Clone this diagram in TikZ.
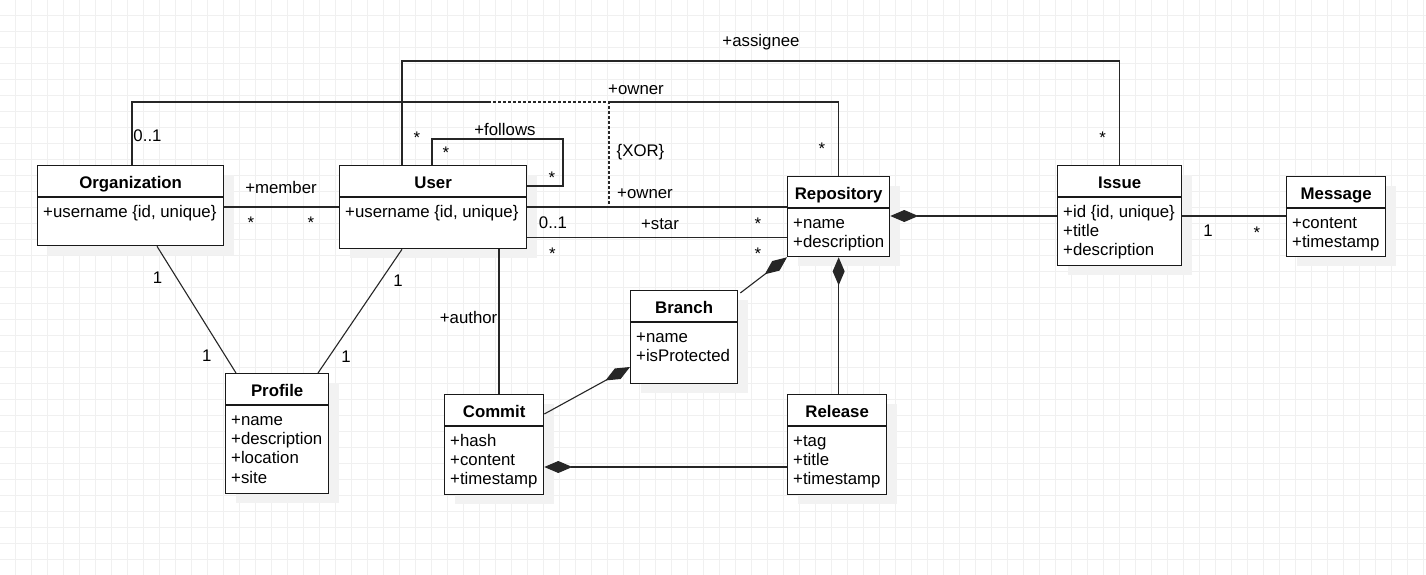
\documentclass[tikz,border=0pt]{standalone}
\usepackage{fontspec}
\setmainfont{Liberation Sans}
\usetikzlibrary{arrows.meta,shadows}
\newcommand\umlfont{\fontsize{16.8}{19.4}\selectfont}
\tikzset{
  gridline/.style={draw=black!6, line width=1pt},
  classbox/.style={draw=black!90, line width=1.3pt, fill=white, anchor=north west, inner sep=0pt,
    drop shadow={shadow xshift=10pt, shadow yshift=-9pt, fill=black!5, opacity=1}},
  classtitle/.style={anchor=base, inner sep=0pt, font=\umlfont\bfseries},
  classattr/.style={anchor=north west, inner sep=0pt, align=left, font=\umlfont},
  classline/.style={draw=black!90, line width=1.3pt},
  assoc/.style={draw=black!85, line width=1.1pt},
  comp/.style={assoc, -{Diamond[length=28pt, width=12pt]}},
  xorline/.style={draw=black!85, line width=1.3pt, dash pattern=on 3pt off 2pt},
  lbl/.style={inner sep=0pt, font=\umlfont, anchor=base},
  mult/.style={lbl, anchor=north, text height=12pt, text depth=0pt}
}

\begin{document}
\begin{tikzpicture}[x=1pt, y=-1pt]
  \fill[white] (0,0) rectangle (1426,575);
  \useasboundingbox (0,0) rectangle (1426,575);
  \foreach \gx in {0,...,88} \draw[gridline] (15.3+16*\gx,0) -- (15.3+16*\gx,575);
  \foreach \gy in {0,...,34} \draw[gridline] (0,15.3+16*\gy) -- (1426,15.3+16*\gy);

  % classes
  \node[classbox, minimum width=186pt, minimum height=80pt] (org) at (37,165) {};
  \node[classtitle] (orgT) at ([yshift=-23pt]org.north) {Organization};
  \draw[classline] ([yshift=-32pt]org.north west) -- ([yshift=-32pt]org.north east);
  \node[classattr] (orgA) at ([xshift=6pt,yshift=-38.4pt]org.north west) {\strut+username \{id, unique\}};

  \node[classbox, minimum width=187pt, minimum height=83pt] (user) at (339,165) {};
  \node[classtitle] (userT) at ([yshift=-23pt]user.north) {User};
  \draw[classline] ([yshift=-32pt]user.north west) -- ([yshift=-32pt]user.north east);
  \node[classattr] (userA) at ([xshift=6pt,yshift=-38.4pt]user.north west) {\strut+username \{id, unique\}};

  \node[classbox, minimum width=102pt, minimum height=80pt] (repo) at (787,176) {};
  \node[classtitle] (repoT) at ([yshift=-23pt]repo.north) {Repository};
  \draw[classline] ([yshift=-32pt]repo.north west) -- ([yshift=-32pt]repo.north east);
  \node[classattr] (repoA) at ([xshift=6pt,yshift=-38.4pt]repo.north west) {\strut+name\\+description};

  \node[classbox, minimum width=124pt, minimum height=100pt] (issue) at (1057,165) {};
  \node[classtitle] (issueT) at ([yshift=-23pt]issue.north) {Issue};
  \draw[classline] ([yshift=-32pt]issue.north west) -- ([yshift=-32pt]issue.north east);
  \node[classattr] (issueA) at ([xshift=6pt,yshift=-38.4pt]issue.north west) {\strut+id \{id, unique\}\\+title\\+description};

  \node[classbox, minimum width=99pt, minimum height=80pt] (msg) at (1286,176) {};
  \node[classtitle] (msgT) at ([yshift=-23pt]msg.north) {Message};
  \draw[classline] ([yshift=-32pt]msg.north west) -- ([yshift=-32pt]msg.north east);
  \node[classattr] (msgA) at ([xshift=6pt,yshift=-38.4pt]msg.north west) {\strut+content\\+timestamp};

  \node[classbox, minimum width=103pt, minimum height=120pt] (profile) at (225,373) {};
  \node[classtitle] (profileT) at ([yshift=-23pt]profile.north) {Profile};
  \draw[classline] ([yshift=-32pt]profile.north west) -- ([yshift=-32pt]profile.north east);
  \node[classattr] (profileA) at ([xshift=6pt,yshift=-38.4pt]profile.north west) {\strut+name\\+description\\+location\\+site};

  \node[classbox, minimum width=107pt, minimum height=93pt] (branch) at (630,290) {};
  \node[classtitle] (branchT) at ([yshift=-23pt]branch.north) {Branch};
  \draw[classline] ([yshift=-32pt]branch.north west) -- ([yshift=-32pt]branch.north east);
  \node[classattr] (branchA) at ([xshift=6pt,yshift=-38.4pt]branch.north west) {\strut+name\\+isProtected};

  \node[classbox, minimum width=99pt, minimum height=100pt] (commit) at (444,394) {};
  \node[classtitle] (commitT) at ([yshift=-23pt]commit.north) {Commit};
  \draw[classline] ([yshift=-32pt]commit.north west) -- ([yshift=-32pt]commit.north east);
  \node[classattr] (commitA) at ([xshift=6pt,yshift=-38.4pt]commit.north west) {\strut+hash\\+content\\+timestamp};

  \node[classbox, minimum width=99pt, minimum height=100pt] (release) at (787,394) {};
  \node[classtitle] (releaseT) at ([yshift=-23pt]release.north) {Release};
  \draw[classline] ([yshift=-32pt]release.north west) -- ([yshift=-32pt]release.north east);
  \node[classattr] (releaseA) at ([xshift=6pt,yshift=-38.4pt]release.north west) {\strut+tag\\+title\\+timestamp};

  % associations
  \draw[assoc] (402,0 |- user.north) |- (issue.north |- 0,61) -- (issue.north);
  \draw[assoc] (132,0 |- org.north) |- (repo.north |- 0,102) -- (repo.north);
  \draw[assoc] (org.east |- 0,207) -- (user.west |- 0,207);
  \draw[assoc] (432,0 |- user.north) |- (563,139) |- (user.east |- 0,186);
  \draw[assoc] (user.east |- 0,207) -- (repo.west |- 0,207);
  \draw[assoc] (user.east |- 0,237.5) -- (repo.west |- 0,237.5);
  \draw[assoc] (157,0 |- org.south) -- (236,0 |- profile.north);
  \draw[assoc] (402,0 |- user.south) -- (318,0 |- profile.north);
  \draw[assoc] (499,0 |- user.south) -- (499,0 |- commit.north);
  \draw[assoc] (issue.east |- 0,216) -- (msg.west |- 0,216);

  % compositions
  \draw[comp] (issue.west |- 0,216) -- (repo.east |- 0,216);
  \draw[comp] ([shift={(2pt,-3pt)}]branch.north east) -- (repo.south west);
  \draw[comp] (repo.south |- release.north) -- (repo.south);
  \draw[comp] (commit.east |- 0,414) -- (branch.west |- 0,367);
  \draw[comp] (release.west |- 0,467) -- (commit.east |- 0,467);

  % xor constraint
  \coordinate (xorA) at (488,102);
  \coordinate (xorB) at (609,207);
  \draw[white, line width=2.5pt] (xorA) -- (xorA -| xorB);
  \draw[xorline] (xorA) -| (xorB);

  % role names
  \node[lbl] (assigneeL) at (761,46.5) {+assignee};
  \node[lbl] (ownerOrgL) at (636,95) {+owner};
  \node[lbl] (xorL) at (640.5,157) {\{XOR\}};
  \node[lbl] (ownerUserL) at (645,198) {+owner};
  \node[lbl] (starL) at (660,229) {+star};
  \node[lbl] (followsL) at (505,135.5) {+follows};
  \node[lbl] (memberL) at (281,193) {+member};
  \node[lbl, anchor=base east] (authorL) at (497.5,323.3) {+author};

  % multiplicities
  \node[lbl] (mOrgOwner) at (147.5,142) {0..1};
  \node[lbl] (mUserOwner) at (553,228.3) {0..1};
  \node[lbl] (mOrgProf) at (157.5,283.3) {1};
  \node[lbl] (mProfOrg) at (206.7,361) {1};
  \node[lbl] (mUserProf) at (398,286.7) {1};
  \node[lbl] (mProfUser) at (346,362.7) {1};
  \node[lbl] (mIssueMsg) at (1208,236.7) {1};
  \node[mult] (mAssUser) at (417,131) {*};
  \node[mult] (mAssIssue) at (1102.6,131.3) {*};
  \node[mult] (mOwnRepo) at (821.8,142) {*};
  \node[mult] (mFolA) at (446,146.7) {*};
  \node[mult] (mFolB) at (552,171) {*};
  \node[mult] (mMemOrg) at (251,216.7) {*};
  \node[mult] (mMemUser) at (311,216.7) {*};
  \node[mult] (mOwnRepoB) at (758,217.3) {*};
  \node[mult] (mStarUser) at (552.5,247.5) {*};
  \node[mult] (mStarRepo) at (758,247.7) {*};
  \node[mult] (mMsgIssue) at (1257,226.7) {*};
\end{tikzpicture}
\end{document}
